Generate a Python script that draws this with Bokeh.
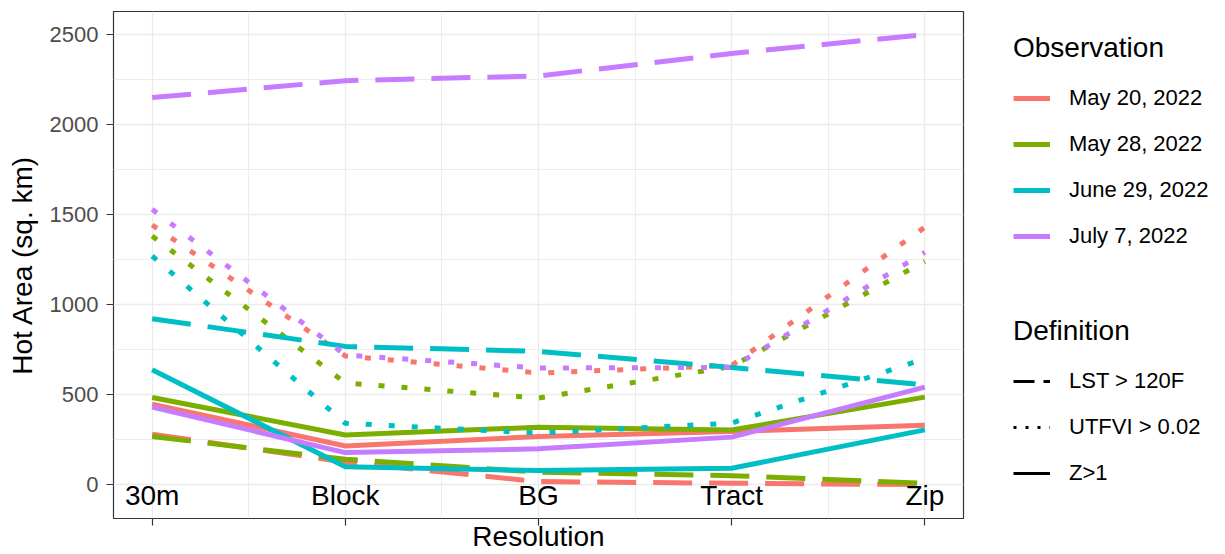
from bokeh.plotting import figure
from bokeh.models import FixedTicker, Legend, LegendItem, ColumnDataSource, Range1d
from bokeh.layouts import row
from bokeh.core.properties import value
from bokeh.embed import file_html
from bokeh.resources import INLINE

# ---------------- data ----------------
resolutions = ["30m", "Block", "BG", "Tract", "Zip"]
res_pos = [1, 2, 3, 4, 5]
observations = ["May 20, 2022", "May 28, 2022", "June 29, 2022", "July 7, 2022"]
obs_colors = ["#F8766D", "#7CAE00", "#00BFC4", "#C77CFF"]
definitions = ["LST > 120F", "UTFVI > 0.02", "Z>1"]

lst_may20 = [280, 125, 17, 8, 0]
lst_may28 = [267, 141, 69, 50, 8]
lst_jun29 = [922, 768, 740, 651, 555]
lst_jul07 = [2150, 2244, 2270, 2395, 2500]

utfvi_may20 = [1442, 715, 620, 662, 1430]
utfvi_may28 = [1381, 565, 481, 657, 1240]
utfvi_jun29 = [1270, 341, 286, 342, 700]
utfvi_jul07 = [1529, 720, 648, 651, 1290]

z_may20 = [447, 215, 267, 295, 330]
z_may28 = [484, 276, 319, 304, 486]
z_jun29 = [638, 100, 78, 91, 304]
z_jul07 = [431, 178, 199, 264, 542]

y_ticks = [0, 500, 1000, 1500, 2000, 2500]

FONT = "Liberation Sans"

series = {
    "LST > 120F": [lst_may20, lst_may28, lst_jun29, lst_jul07],
    "UTFVI > 0.02": [utfvi_may20, utfvi_may28, utfvi_jun29, utfvi_jul07],
    "Z>1": [z_may20, z_may28, z_jun29, z_jul07],
}
dash_main = {"LST > 120F": "39 17", "UTFVI > 0.02": "6 17", "Z>1": "solid"}
dash_key = {"LST > 120F": "21 9", "UTFVI > 0.02": "3 9", "Z>1": "solid"}

p = figure(
    width=968, height=554,
    output_backend="svg", toolbar_location=None,
    x_range=Range1d(0.8, 5.2), y_range=Range1d(-188, 2628),
    min_border_top=11, min_border_left=113, min_border_right=5, min_border_bottom=0,
)

p.background_fill_color = "white"
p.border_fill_color = "white"
p.outline_line_color = "#333333"
p.outline_line_width = 1.2

# grids
p.xaxis.ticker = FixedTicker(ticks=res_pos, minor_ticks=[1.5, 2.5, 3.5, 4.5])
p.yaxis.ticker = FixedTicker(ticks=y_ticks, minor_ticks=[250, 750, 1250, 1750, 2250])
for g in (p.xgrid, p.ygrid):
    g.grid_line_color = "#EBEBEB"
    g.grid_line_width = 1.3
    g.minor_grid_line_color = "#EBEBEB"
    g.minor_grid_line_width = 0.9

# axes
for ax in (p.xaxis, p.yaxis):
    ax.axis_line_color = None
    ax.major_tick_line_color = "#333333"
    ax.major_tick_line_width = 1.2
    ax.major_tick_out = 7
    ax.major_tick_in = 0
    ax.minor_tick_line_color = None
    ax.axis_label_text_font = FONT
    ax.axis_label_text_font_size = "28px"
    ax.axis_label_text_font_style = "normal"
    ax.axis_label_text_color = "black"
    ax.major_label_text_font = FONT
    ax.major_label_text_color = "#4D4D4D"

p.yaxis.axis_label = "Hot Area (sq. km)"
p.yaxis.major_label_text_font_size = "22px"
p.yaxis.major_label_standoff = 8
p.yaxis.axis_label_standoff = 9

p.xaxis.axis_label = "Resolution"
p.xaxis.major_label_text_font_size = "0px"
p.xaxis.major_label_overrides = {k: "" for k in res_pos}
p.xaxis.major_label_standoff = 0
p.xaxis.axis_label_standoff = -5

# data lines
for i, obs in enumerate(observations):
    for d in definitions:
        p.line(res_pos, series[d][i], line_color=obs_colors[i], line_width=5,
               line_dash=dash_main[d], line_cap="butt", line_join="round")

# category labels in the panel
lab_src = ColumnDataSource(dict(x=res_pos, y=[-62] * len(res_pos), t=resolutions))
p.text(x="x", y="y", text="t", source=lab_src, text_align="center",
       text_baseline="middle", text_font=value(FONT), text_font_size="28px",
       text_color="black")

# ---------------- legend panel ----------------
lp = figure(
    width=257, height=554, output_backend="svg", toolbar_location=None,
    x_range=Range1d(0, 1), y_range=Range1d(0, 1),
    x_axis_type=None, y_axis_type=None, min_border=0,
)
lp.outline_line_color = None
lp.grid.visible = False
lp.background_fill_color = "white"
lp.border_fill_color = "white"

# legend-only renderers, kept outside the visible range
obs_items = []
for i, obs in enumerate(observations):
    r = lp.line([-10, -9], [-10, -10], line_color=obs_colors[i], line_width=5)
    obs_items.append(LegendItem(label=obs, renderers=[r]))
def_items = []
for d in definitions:
    r = lp.line([-10, -9], [-10, -10], line_color="black", line_width=3,
                line_dash=dash_key[d], line_cap="butt")
    def_items.append(LegendItem(label=d, renderers=[r]))

def style_legend(lg):
    lg.title_text_font = FONT
    lg.title_text_font_size = "28px"
    lg.title_text_font_style = "normal"
    lg.title_text_color = "black"
    lg.title_standoff = 14
    lg.label_text_font = FONT
    lg.label_text_font_size = "22px"
    lg.label_text_color = "black"
    lg.glyph_width = 37
    lg.glyph_height = 40
    lg.label_height = 40
    lg.label_standoff = 19
    lg.spacing = 6
    lg.padding = 0
    lg.margin = 0
    lg.border_line_color = None
    lg.background_fill_alpha = 0
    lg.click_policy = "none"

leg1 = Legend(items=obs_items, title="Observation", location=(45, 262))
leg2 = Legend(items=def_items, title="Definition", location=(45, 25))
style_legend(leg1)
style_legend(leg2)
lp.add_layout(leg1)
lp.add_layout(leg2)

layout = row(p, lp)
open("out.html", "w").write(file_html(layout, INLINE))
